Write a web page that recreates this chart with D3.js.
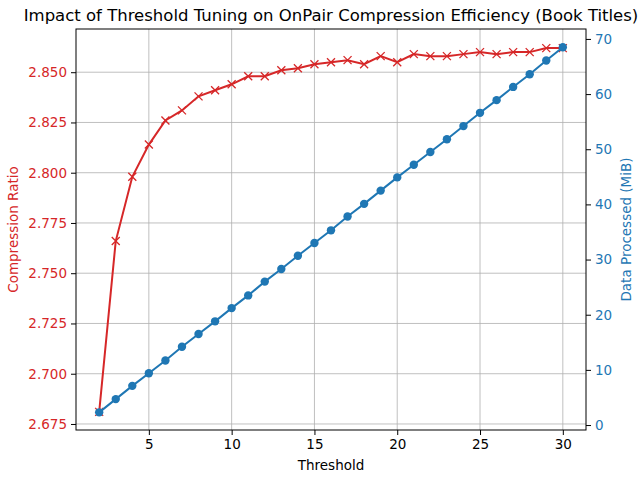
<!DOCTYPE html>
<html>
<head>
<meta charset="utf-8">
<script src="https://cdn.jsdelivr.net/npm/d3@7"></script>
<style>
  body { margin: 0; background: #fff; }
  svg { font-family: "DejaVu Sans", sans-serif; }
</style>
</head>
<body>
<svg id="chart"></svg>
<script>
const thresholds = [2, 3, 4, 5, 6, 7, 8, 9, 10, 11, 12, 13, 14, 15, 16, 17, 18, 19, 20, 21, 22, 23, 24, 25, 26, 27, 28, 29, 30];
const compressionRatio = [2.681, 2.766, 2.798, 2.814, 2.826, 2.831, 2.838, 2.841, 2.844, 2.848, 2.848, 2.851, 2.852, 2.854, 2.855,
  2.856, 2.854, 2.858, 2.855, 2.859, 2.858, 2.858, 2.859, 2.860, 2.859, 2.860, 2.860, 2.862, 2.862];
const dataProcessed = [2.3, 4.7, 7.1, 9.4, 11.7, 14.2, 16.5, 18.8, 21.2, 23.5, 26.0, 28.3, 30.7, 33.0, 35.3,
  37.8, 40.1, 42.5, 44.9, 47.2, 49.5, 51.8, 54.2, 56.6, 58.9, 61.3, 63.6, 66.1, 68.5];
const xTicks = [5, 10, 15, 20, 25, 30];
const leftTicks = [2.675, 2.700, 2.725, 2.750, 2.775, 2.800, 2.825, 2.850];
const rightTicks = [0, 10, 20, 30, 40, 50, 60, 70];

const width = 640;
const height = 480;
const margin = { top: 29, right: 54, bottom: 50, left: 76 };
const red = "#d62728";
const blue = "#1f77b4";

const svg = d3.select("#chart")
  .attr("width", width)
  .attr("height", height);

// scales (matplotlib style 5% padding)
const xScale = d3.scaleLinear()
  .domain([0.6, 31.4])
  .range([margin.left, width - margin.right]);

const yLeft = d3.scaleLinear()
  .domain([2.672, 2.8715])
  .range([height - margin.bottom, margin.top]);

const yRight = d3.scaleLinear()
  .domain([-0.9, 71.8])
  .range([height - margin.bottom, margin.top]);

// grid
const grid = svg.append("g").attr("stroke", "#b0b0b0").attr("stroke-width", 0.8);
grid.selectAll(".gx").data(xTicks).enter().append("line")
  .attr("x1", d => xScale(d)).attr("x2", d => xScale(d))
  .attr("y1", margin.top).attr("y2", height - margin.bottom);
grid.selectAll(".gy").data(leftTicks).enter().append("line")
  .attr("x1", margin.left).attr("x2", width - margin.right)
  .attr("y1", d => yLeft(d)).attr("y2", d => yLeft(d));

// red series
svg.append("path")
  .datum(thresholds.map((t, i) => [t, compressionRatio[i]]))
  .attr("fill", "none")
  .attr("stroke", red)
  .attr("stroke-width", 2)
  .attr("d", d3.line().x(d => xScale(d[0])).y(d => yLeft(d[1])));

const s = 4;
svg.append("g").selectAll("path")
  .data(thresholds.map((t, i) => [t, compressionRatio[i]]))
  .enter().append("path")
  .attr("d", d => {
    const x = xScale(d[0]), y = yLeft(d[1]);
    return `M${x - s},${y - s}L${x + s},${y + s}M${x - s},${y + s}L${x + s},${y - s}`;
  })
  .attr("stroke", red)
  .attr("stroke-width", 1.3);

// blue series
svg.append("path")
  .datum(thresholds.map((t, i) => [t, dataProcessed[i]]))
  .attr("fill", "none")
  .attr("stroke", blue)
  .attr("stroke-width", 2)
  .attr("d", d3.line().x(d => xScale(d[0])).y(d => yRight(d[1])));

svg.append("g").selectAll("circle")
  .data(thresholds.map((t, i) => [t, dataProcessed[i]]))
  .enter().append("circle")
  .attr("cx", d => xScale(d[0]))
  .attr("cy", d => yRight(d[1]))
  .attr("r", 4.2)
  .attr("fill", blue);

// axes
const xAxis = d3.axisBottom(xScale).tickValues(xTicks).tickSize(5).tickPadding(4);
const yAxisL = d3.axisLeft(yLeft).tickValues(leftTicks).tickFormat(d3.format(".3f")).tickSize(5).tickPadding(4);
const yAxisR = d3.axisRight(yRight).tickValues(rightTicks).tickSize(5).tickPadding(4);

const gx = svg.append("g")
  .attr("transform", `translate(0,${height - margin.bottom})`)
  .call(xAxis);
const gl = svg.append("g")
  .attr("transform", `translate(${margin.left},0)`)
  .call(yAxisL);
const gr = svg.append("g")
  .attr("transform", `translate(${width - margin.right},0)`)
  .call(yAxisR);

[gx, gl, gr].forEach(g => {
  g.select(".domain").remove();
  g.selectAll("text").attr("font-size", 13.5).attr("font-family", "DejaVu Sans");
});
gx.selectAll("line").attr("stroke", "#000");
gx.selectAll("text").attr("fill", "#000");
gl.selectAll("line").attr("stroke", "#000");
gl.selectAll("text").attr("fill", red);
gr.selectAll("line").attr("stroke", "#000");
gr.selectAll("text").attr("fill", blue);

// frame
svg.append("rect")
  .attr("x", margin.left).attr("y", margin.top)
  .attr("width", width - margin.left - margin.right)
  .attr("height", height - margin.top - margin.bottom)
  .attr("fill", "none").attr("stroke", "#000").attr("stroke-width", 1);

// labels
const cx = (margin.left + width - margin.right) / 2;
svg.append("text")
  .attr("x", cx).attr("y", 21)
  .attr("text-anchor", "middle")
  .attr("font-size", 16.5)
  .text("Impact of Threshold Tuning on OnPair Compression Efficiency (Book Titles)");

svg.append("text")
  .attr("x", cx).attr("y", 470)
  .attr("text-anchor", "middle")
  .attr("font-size", 13.5)
  .text("Threshold");

svg.append("text")
  .attr("transform", `translate(18,${(margin.top + height - margin.bottom) / 2}) rotate(-90)`)
  .attr("text-anchor", "middle")
  .attr("font-size", 13.5)
  .attr("fill", red)
  .text("Compression Ratio");

svg.append("text")
  .attr("transform", `translate(631,${(margin.top + height - margin.bottom) / 2}) rotate(-90)`)
  .attr("text-anchor", "middle")
  .attr("font-size", 13.5)
  .attr("fill", blue)
  .text("Data Processed (MiB)");
</script>
</body>
</html>
